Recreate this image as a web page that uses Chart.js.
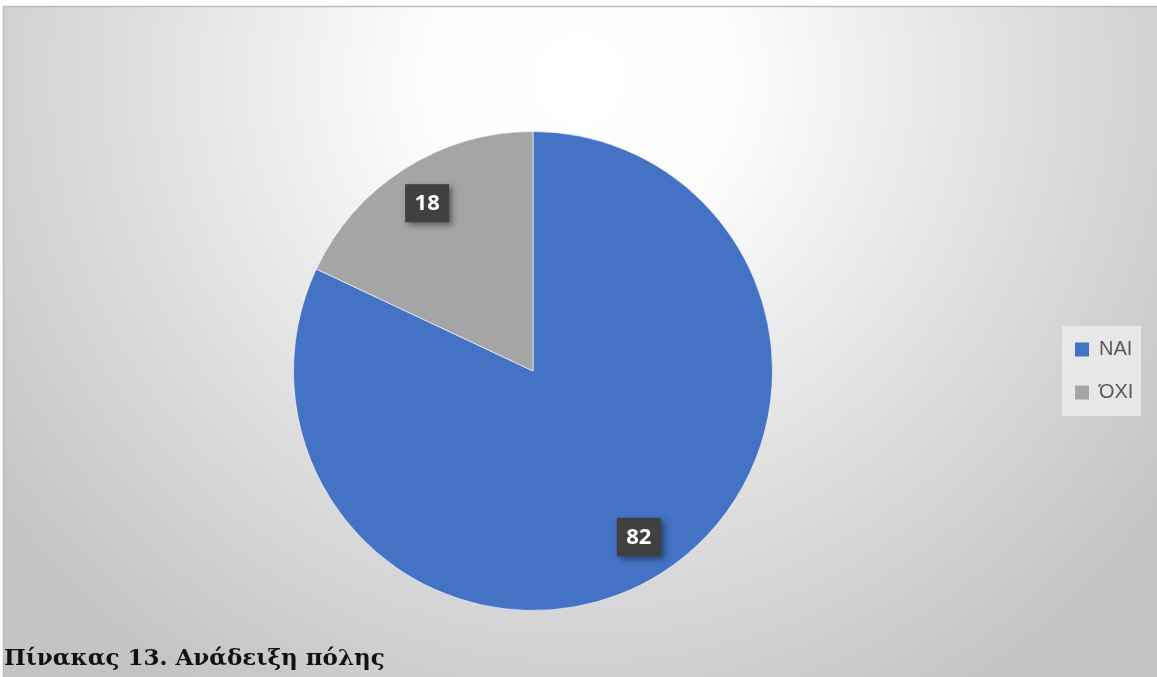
<!DOCTYPE html>
<html>
<head>
<meta charset="utf-8">
<script src="https://cdn.jsdelivr.net/npm/chart.js@4.4.1/dist/chart.umd.min.js"></script>
<style>
  html, body { margin: 0; padding: 0; background: #fff; }
  #wrap { position: relative; width: 1157px; height: 677px; overflow: hidden; }
  #canvas { position: absolute; left: 0; top: 0; }
  .caption {
    position: absolute; left: 4px; top: 643px;
    font: bold 23px/28px "DejaVu Serif", serif; color: #111;
    white-space: nowrap;
  }
</style>
</head>
<body>
<div id="wrap">
  <canvas id="canvas" width="1157" height="677"></canvas>
  <div class="caption">Πίνακας 13. Ανάδειξη πόλης</div>
</div>
<script>
const labels = ['ΝΑΙ', 'ΌΧΙ']
const values = [82, 18]
const colors = ['#4472C4', '#A5A5A5']

// background gradient + frame, and the little grey panel behind the legend
const backdrop = {
    id: 'backdrop',
    beforeDraw(chart) {
        const { ctx, width, height } = chart
        ctx.save()
        ctx.fillStyle = '#ffffff'
        ctx.fillRect(0, 0, width, height)
        const g = ctx.createRadialGradient(580, 80, 0, 580, 80, 720)
        g.addColorStop(0, '#ffffff')
        g.addColorStop(0.22, '#fcfcfc')
        g.addColorStop(0.65, '#dcdcdc')
        g.addColorStop(1, '#c4c4c4')
        ctx.fillStyle = g
        ctx.fillRect(3, 6, width - 3, height - 6)
        ctx.strokeStyle = '#bdbdbd'
        ctx.lineWidth = 1.5
        ctx.beginPath()
        ctx.moveTo(3.5, height)
        ctx.lineTo(3.5, 6.5)
        ctx.lineTo(width, 6.5)
        ctx.stroke()

        const lg = chart.legend
        const mid = (chart.chartArea.top + chart.chartArea.bottom) / 2
        ctx.fillStyle = 'rgba(235,235,235,0.85)'
        ctx.fillRect(lg.left + 10, mid - 45, 79, 90)
        ctx.restore()
    }
}

// dark value boxes on the slices
const valueBoxes = {
    id: 'valueBoxes',
    afterDatasetsDraw(chart) {
        const { ctx } = chart
        const meta = chart.getDatasetMeta(0)
        ctx.save()
        meta.data.forEach((arc, i) => {
            const p = arc.getProps(['x', 'y', 'startAngle', 'endAngle', 'outerRadius'], true)
            const a = (p.startAngle + p.endAngle) / 2
            const r = p.outerRadius * 0.825
            const cx = p.x + Math.cos(a) * r
            const cy = p.y + Math.sin(a) * r - 1
            const w = 44, h = 38
            ctx.shadowColor = 'rgba(0,0,0,0.45)'
            ctx.shadowBlur = 6
            ctx.shadowOffsetX = 3
            ctx.shadowOffsetY = 3
            ctx.fillStyle = '#404040'
            ctx.fillRect(cx - w / 2, cy - h / 2, w, h)
            ctx.shadowColor = 'transparent'
            ctx.fillStyle = '#ffffff'
            ctx.font = 'bold 22px "Open Sans", sans-serif'
            ctx.textAlign = 'center'
            ctx.textBaseline = 'middle'
            ctx.fillText(String(values[i]), cx, cy + 1)
        })
        ctx.restore()
    }
}

const ctx = document.getElementById('canvas')

new Chart(ctx, {
    type: 'pie',
    data: {
        labels: labels,
        datasets: [{
            data: values,
            backgroundColor: colors,
            borderColor: 'rgba(255,255,255,0.6)',
            borderWidth: 1,
            hoverOffset: 0,
        }],
    },
    options: {
        responsive: false,
        animation: false,
        layout: {
            padding: { top: 131, bottom: 66, left: 14, right: 25 }
        },
        plugins: {
            tooltip: { enabled: false },
            legend: {
                position: 'right',
                maxWidth: 80,
                labels: {
                    boxWidth: 14,
                    boxHeight: 14,
                    padding: 23,
                    color: '#595959',
                    font: { family: '"Liberation Sans", Arial, sans-serif', size: 20 },
                    generateLabels(chart) {
                        const items = Chart.overrides.pie.plugins.legend.labels.generateLabels(chart)
                        items.forEach(it => { it.lineWidth = 0 })
                        return items
                    }
                }
            }
        }
    },
    plugins: [backdrop, valueBoxes]
});
</script>
</body>
</html>
